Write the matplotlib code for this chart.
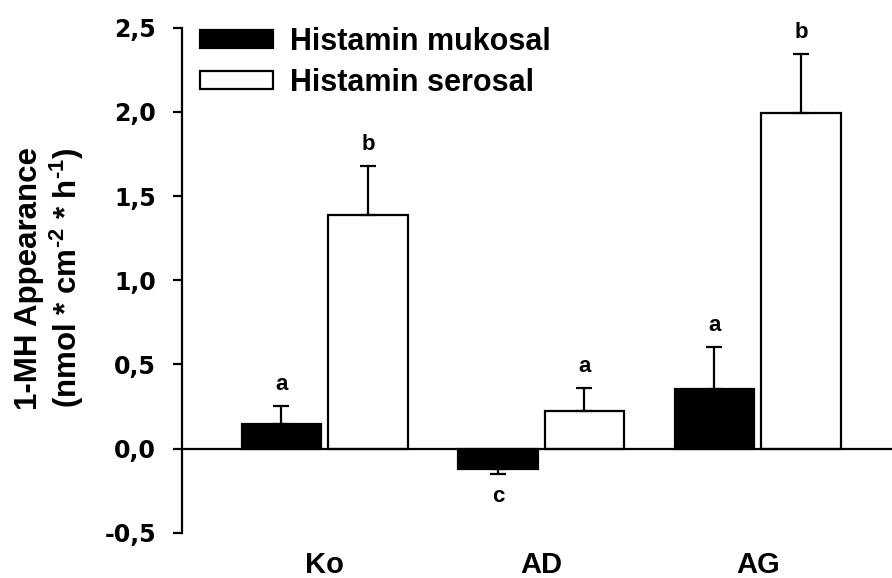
import matplotlib
matplotlib.use("Agg")
import matplotlib.pyplot as plt
import numpy as np

# Data: 1-MH appearance per group, mean and one-sided SE
groups = ["Ko", "AD", "AG"]
mukosal = [0.148, -0.119, 0.352]
mukosal_err = [0.105, 0.034, 0.250]
serosal = [1.387, 0.223, 1.992]
serosal_err = [0.293, 0.135, 0.350]
mukosal_letters = ["a", "c", "a"]
serosal_letters = ["b", "a", "b"]
yticks = [-0.5, 0.0, 0.5, 1.0, 1.5, 2.0, 2.5]
ytick_labels = ["-0,5", "0,0", "0,5", "1,0", "1,5", "2,0", "2,5"]

plt.rcParams["font.family"] = ["Liberation Sans", "DejaVu Sans"]
plt.rcParams["font.weight"] = "bold"
plt.rcParams["mathtext.fontset"] = "custom"
plt.rcParams["mathtext.rm"] = "Liberation Sans:bold"
plt.rcParams["mathtext.bf"] = "Liberation Sans:bold"
plt.rcParams["mathtext.default"] = "rm"

W, H = 892, 578
fig = plt.figure(figsize=(W / 100, H / 100), dpi=100)
ax = fig.add_axes([181.7 / W, 1 - 532.7 / H, 710.3 / W, 505.0 / H])

x = np.arange(len(groups))
off = 0.2
width = 0.367
lw = 1.6

def one_sided(vals, errs):
    lo = [e if v < 0 else 0 for v, e in zip(vals, errs)]
    hi = [0 if v < 0 else e for v, e in zip(vals, errs)]
    return [lo, hi]

ax.bar(x - off, mukosal, width, color="black", edgecolor="black",
       linewidth=lw, label="Histamin mukosal", zorder=2)
ax.bar(x + off, serosal, width, color="white", edgecolor="black",
       linewidth=lw, label="Histamin serosal", zorder=2)
ax.errorbar(x - off, mukosal, yerr=one_sided(mukosal, mukosal_err), fmt="none",
            ecolor="black", elinewidth=lw, capsize=5.8, capthick=lw, zorder=3)
ax.errorbar(x + off, serosal, yerr=one_sided(serosal, serosal_err), fmt="none",
            ecolor="black", elinewidth=lw, capsize=5.8, capthick=lw, zorder=3)

# significance letters above/below the error bars
for xi, v, e, t in zip(x - off, mukosal, mukosal_err, mukosal_letters):
    if v < 0:
        ax.text(xi, v - e - 0.07, t, ha="center", va="top", fontsize=16, fontweight="bold")
    else:
        ax.text(xi, v + e + 0.065, t, ha="center", va="bottom", fontsize=16, fontweight="bold")
for xi, v, e, t in zip(x + off, serosal, serosal_err, serosal_letters):
    ax.text(xi, v + e + 0.065, t, ha="center", va="bottom", fontsize=16, fontweight="bold")

ax.axhline(0, color="black", linewidth=lw, zorder=4)
ax.set_xlim(-0.66, 2.62)
ax.set_ylim(-0.5, 2.5)

for s in ["top", "right", "bottom"]:
    ax.spines[s].set_visible(False)
ax.spines["left"].set_linewidth(lw)

ax.set_yticks(yticks)
ax.set_yticklabels(ytick_labels, fontsize=17, fontweight="bold",
                   family=["DejaVu Sans"])
ax.tick_params(axis="y", direction="out", length=6.5, width=lw, pad=12)
ax.set_xticks(x)
ax.set_xticklabels(groups, fontsize=21, fontweight="bold")
ax.tick_params(axis="x", length=0, pad=13)

fig.text(50 / W, 1 - 278 / H,
         "1-MH Appearance\n(nmol * cm$^{\\text{-2}}$ * h$^{\\text{-1}}$)",
         rotation=90, ha="center", va="center", fontsize=22.5,
         fontweight="bold", linespacing=1.1, multialignment="center")

leg = ax.legend(loc="upper left", bbox_to_anchor=(200 / W, 1 - 27 / H),
                bbox_transform=fig.transFigure, frameon=False,
                fontsize=22, handlelength=2.4, handleheight=0.5,
                handletextpad=0.55, labelspacing=0.35, borderpad=0,
                borderaxespad=0)

fig.savefig("out.png", dpi=100)
